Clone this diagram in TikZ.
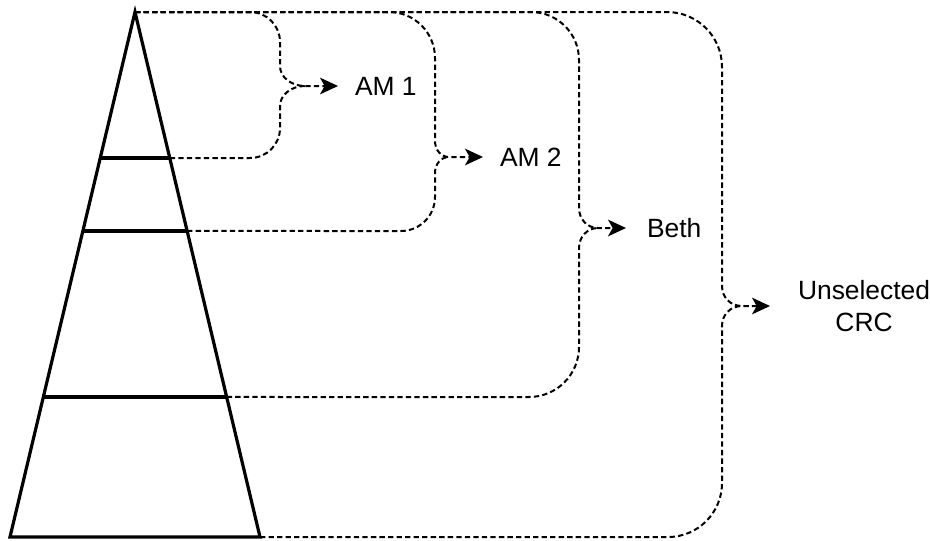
\documentclass[tikz,border=0pt]{standalone}
\usepackage{fontspec}
\setmainfont{Liberation Sans}
\usetikzlibrary{calc,arrows.meta}
\begin{document}
\begin{tikzpicture}[x=0.75pt,y=-0.75pt,
  tier/.style={line width=2.4pt},
  feed/.style={line width=1.5pt, dash pattern=on 4pt off 2.4pt},
  feedarrow/.style={feed, -{Stealth[length=13.5pt,width=12.5pt,inset=3.5pt]}},
  lbl/.style={font=\fontsize{19.8pt}{24pt}\selectfont, anchor=west,
    inner ysep=0pt, outer sep=0pt, align=center}]
\useasboundingbox (0,0) rectangle (930,540);

% pyramid and its tier boundaries
\coordinate (apex) at (135,12);
\coordinate (bl) at (10,537);
\coordinate (br) at (260,537);
\coordinate (l1w) at ($(apex)!0.2781!(bl)$);
\coordinate (l1e) at ($(apex)!0.2781!(br)$);
\coordinate (l2w) at ($(apex)!0.4171!(bl)$);
\coordinate (l2e) at ($(apex)!0.4171!(br)$);
\coordinate (l3w) at ($(apex)!0.7333!(bl)$);
\coordinate (l3e) at ($(apex)!0.7333!(br)$);
\draw[tier] (apex) -- (bl) -- (br) -- cycle;
\draw[tier] (l1w) -- (l1e);
\draw[tier] (l2w) -- (l2e);
\draw[tier] (l3w) -- (l3e);

% brace tips
\coordinate (t1) at (305,86);
\coordinate (t2) at (449,157);
\coordinate (t3) at (598,228);
\coordinate (t4) at (742,306);

% labels
\node[lbl, inner xsep=12.75pt] (am1) at (338,86) {AM 1};
\node[lbl, inner xsep=12.75pt] (am2) at (483,157) {AM 2};
\node[lbl, inner xsep=15.75pt] (beth) at (626,228) {Beth};
\node[lbl, inner xsep=21pt] (crc) at (770,306) {Unselected\\CRC};

% AM 1 brace
\draw[feedarrow] (apex) -- (250,12) .. controls (266.6,12) and (280,25.4) .. (280,42)
  -- (280,66) .. controls (280,77) and (291,86) .. (t1) -- (am1);
\draw[feed] (l1e) -- (250,158) .. controls (266.6,158) and (280,144.6) .. (280,128)
  -- (280,106) .. controls (280,95) and (291,86) .. (t1);

% AM 2 brace
\draw[feedarrow] (apex) -- (389,12) .. controls (414.4,12) and (435,32.6) .. (435,58)
  -- (435,141) .. controls (435,150) and (441,157) .. (t2) -- (am2);
\draw[feed] (l2e) -- (401,231) .. controls (419.8,231) and (435,215.8) .. (435,197)
  -- (435,173) .. controls (435,164) and (441,157) .. (t2);

% Beth brace
\draw[feedarrow] (apex) -- (531,12) .. controls (557.5,12) and (579,33.5) .. (579,60)
  -- (579,208) .. controls (579,219) and (587,228) .. (t3) -- (beth);
\draw[feed] (l3e) -- (529,397) .. controls (556.6,397) and (579,374.6) .. (579,347)
  -- (579,248) .. controls (579,237) and (587,228) .. (t3);

% Unselected CRC brace
\draw[feedarrow] (apex) -- (667,12) .. controls (697.4,12) and (722,36.6) .. (722,67)
  -- (722,286) .. controls (722,297) and (730,306) .. (t4) -- (crc);
\draw[feed] (br) -- (668,537) .. controls (697.8,537) and (722,512.8) .. (722,483)
  -- (722,326) .. controls (722,315) and (730,306) .. (t4);
\end{tikzpicture}
\end{document}
